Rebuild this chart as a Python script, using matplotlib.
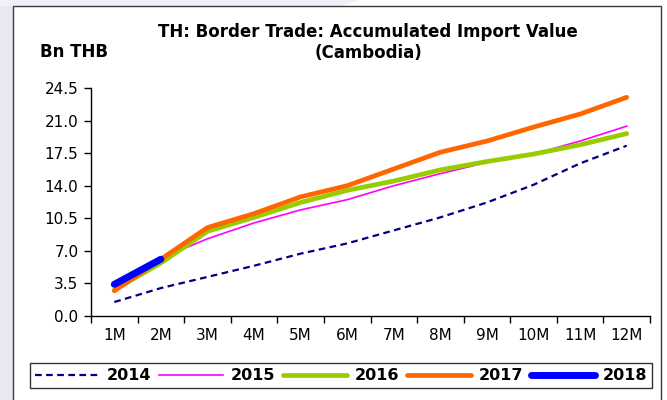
import matplotlib.pyplot as plt
import matplotlib.patches as mpatches
from matplotlib.ticker import FixedLocator, FixedFormatter

plt.rcParams['font.family'] = ['DejaVu Sans']

months = ['1M', '2M', '3M', '4M', '5M', '6M', '7M', '8M', '9M', '10M', '11M', '12M']
imp_2014 = [1.5, 3.0, 4.2, 5.4, 6.7, 7.8, 9.2, 10.6, 12.2, 14.1, 16.4, 18.3]
imp_2015 = [2.9, 6.2, 8.3, 10.0, 11.4, 12.5, 14.0, 15.3, 16.5, 17.4, 18.8, 20.4]
imp_2016 = [2.8, 5.7, 9.1, 10.6, 12.2, 13.5, 14.5, 15.7, 16.6, 17.4, 18.4, 19.6]
imp_2017 = [2.7, 6.1, 9.5, 11.0, 12.8, 14.0, 15.8, 17.6, 18.8, 20.3, 21.7, 23.5]
imp_2018 = [3.4, 6.1]
y_ticks = [0.0, 3.5, 7.0, 10.5, 14.0, 17.5, 21.0, 24.5]

W, H = 667, 400
fig = plt.figure(figsize=(W / 100, H / 100), dpi=100)
fig.patch.set_facecolor('white')

# pale backdrop strips around the chart frame
fig.patches.append(mpatches.Rectangle((0, 0), 13 / W, 1, transform=fig.transFigure,
                                      facecolor='#E8E8F2', edgecolor='none', zorder=0))
fig.patches.append(mpatches.Polygon([(0, 1), (360 / W, 1), (340 / W, 394 / H), (0, 394 / H)],
                                    closed=True, transform=fig.transFigure,
                                    facecolor='#F0F0F7', edgecolor='none', zorder=0))
# chart frame
fig.patches.append(mpatches.Rectangle((13 / W, -0.05), (661 - 13) / W, (394 / H) + 0.05,
                                      transform=fig.transFigure, facecolor='white',
                                      edgecolor='#3A3A3A', linewidth=1.0, zorder=1))

ax = fig.add_axes([91 / W, (H - 316) / H, (650 - 91) / W, (316 - 88) / H])
ax.set_facecolor('none')
ax.set_zorder(2)

x = list(range(len(months)))
ax.plot(x, imp_2014, color='#000080', lw=1.6, ls=(0, (3, 2)), label='2014')
ax.plot(x, imp_2015, color='#FF00FF', lw=1.2, label='2015')
ax.plot(x, imp_2016, color='#99CC00', lw=3.4, solid_capstyle='round', label='2016')
ax.plot(x, imp_2017, color='#FF6600', lw=3.4, solid_capstyle='round', label='2017')
ax.plot(x[:len(imp_2018)], imp_2018, color='#0000FF', lw=5.0, solid_capstyle='round',
        label='2018')

ax.set_xlim(-0.5, len(months) - 0.5)
ax.set_ylim(0, 24.5)

# ticks sit between the month categories, labels sit under each month
ax.xaxis.set_major_locator(FixedLocator([i - 0.5 for i in range(len(months) + 1)]))
ax.xaxis.set_major_formatter(FixedFormatter([''] * (len(months) + 1)))
ax.xaxis.set_minor_locator(FixedLocator(x))
ax.xaxis.set_minor_formatter(FixedFormatter(months))
ax.tick_params(axis='x', which='major', direction='out', length=5, width=1, color='black')
ax.tick_params(axis='x', which='minor', length=0, pad=9, labelsize=11)

ax.set_yticks(y_ticks)
ax.set_yticklabels([f'{v:.1f}' for v in y_ticks])
ax.tick_params(axis='y', direction='out', length=5, width=1, pad=4, labelsize=11)

for side in ['top', 'right']:
    ax.spines[side].set_visible(False)
for side in ['left', 'bottom']:
    ax.spines[side].set_linewidth(1.0)
    ax.spines[side].set_color('black')

fig.text(368 / W, 1 - 32 / H, 'TH: Border Trade: Accumulated Import Value',
         ha='center', va='center', fontsize=12, fontweight='bold', zorder=3)
fig.text(368 / W, 1 - 53 / H, '(Cambodia)', ha='center', va='center',
         fontsize=12, fontweight='bold', zorder=3)
fig.text(40 / W, 1 - 52 / H, 'Bn THB', ha='left', va='center',
         fontsize=12, fontweight='bold', zorder=3)

leg = fig.legend(loc='lower left', bbox_to_anchor=(30 / W, (H - 388) / H, 622 / W, 25 / H),
                 mode='expand', ncol=5, frameon=True, fancybox=False, handlelength=4.0,
                 handletextpad=0.5, borderaxespad=0, borderpad=0.3,
                 prop={'weight': 'bold', 'size': 11.5})
leg.get_frame().set_edgecolor('black')
leg.get_frame().set_linewidth(1.0)
leg.set_zorder(3)

fig.savefig('out.png', dpi=100)
